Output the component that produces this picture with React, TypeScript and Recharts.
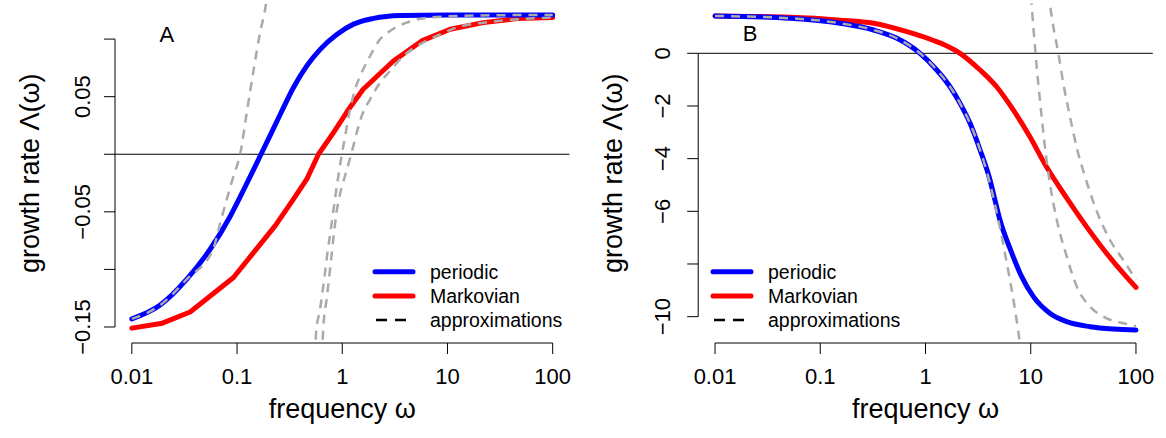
import React from 'react';
import { LineChart, Line, XAxis, YAxis, ReferenceLine, ReferenceDot, Legend } from 'recharts';

const FONT = '"Liberation Sans", Arial, Helvetica, sans-serif';

// ---- shared x axis (frequency, log scale) ----
const freqTicks = [0.01, 0.1, 1, 10, 100];
const freqTickLabels = ['0.01', '0.1', '1', '10', '100'];

// ---- panel A ----
const aYTicks = [-0.15, -0.1, -0.05, 0, 0.05, 0.1];
const aYTickLabels = ['\u22120.15', '', '\u22120.05', '', '0.05', ''];

const aPeriodicW = [0.01, 0.0186, 0.0333, 0.0555, 0.0859, 0.107, 0.169, 0.257, 0.344, 0.46, 0.617, 0.887, 1.28, 1.98, 3.55, 10, 100];
const aPeriodicV = [-0.143, -0.131, -0.1085, -0.0825, -0.054, -0.037, 0, 0.0345, 0.058, 0.0767, 0.0911, 0.104, 0.113, 0.118, 0.1205, 0.121, 0.121];

const aMarkovW = [0.01, 0.0195, 0.0358, 0.0925, 0.23, 0.344, 0.46, 0.594, 0.825, 1.15, 1.58, 3.06, 5.69, 10.6, 21.9, 45.5, 100];
const aMarkovV = [-0.151, -0.1467, -0.137, -0.107, -0.0622, -0.039, -0.0217, 0, 0.0188, 0.039, 0.0564, 0.081, 0.0984, 0.1085, 0.1143, 0.1178, 0.1187];

const aApproxLowW = [0.01, 0.0186, 0.0333, 0.0592, 0.069, 0.08, 0.0917, 0.107, 0.1236, 0.143, 0.165, 0.188, 0.2];
const aApproxLowV = [-0.143, -0.131, -0.1085, -0.0826, -0.06, -0.039, -0.02, 0, 0.036, 0.072, 0.105, 0.13, 0.15];

const aApproxHighPW = [0.55, 0.564, 0.615, 0.679, 0.724, 0.774, 0.845, 0.929, 1.052, 1.186, 1.324, 1.531, 1.837, 2.286, 2.844, 4.1, 6.82, 20, 100];
const aApproxHighPV = [-0.175, -0.155, -0.1345, -0.106, -0.0852, -0.067, -0.0417, -0.0157, 0.013, 0.039, 0.0564, 0.0709, 0.0853, 0.0998, 0.107, 0.1143, 0.1187, 0.1205, 0.121];

const aApproxHighMW = [0.64, 0.661, 0.71, 0.766, 0.836, 0.883, 0.942, 1.074, 1.23, 1.374, 1.531, 1.837, 2.286, 2.844, 3.81, 5.48, 7.91, 12.2, 25.4, 100];
const aApproxHighMV = [-0.175, -0.15, -0.126, -0.0998, -0.0678, -0.0504, -0.0365, -0.0174, 0.0017, 0.0188, 0.0333, 0.0477, 0.0622, 0.0723, 0.0853, 0.0955, 0.1027, 0.11, 0.1149, 0.1187];

// ---- panel B ----
const bYTicks = [0, -2, -4, -6, -8, -10];
const bYTickLabels = ['0', '\u22122', '\u22124', '\u22126', '', '\u221210'];

const bPeriodicW = [0.01, 0.0516, 0.155, 0.321, 0.535, 0.887, 1.28, 1.71, 2.13, 2.65, 3.3, 4.1, 4.57, 5.1, 6.44, 8.2, 10.6, 15.2, 22, 36.6, 61, 100];
const bPeriodicV = [1.417, 1.33, 1.14, 0.885, 0.57, 0, -0.634, -1.27, -1.9, -2.66, -3.67, -4.81, -5.57, -6.33, -7.47, -8.48, -9.24, -9.87, -10.19, -10.38, -10.47, -10.51];

const bMarkovW = [0.01, 0.0516, 0.155, 0.321, 0.665, 1.19, 1.6, 2.13, 3.3, 4.74, 6.82, 9.82, 14.1, 22, 34, 52.7, 75.9, 100];
const bMarkovV = [1.417, 1.37, 1.26, 1.14, 0.82, 0.486, 0.277, 0, -0.634, -1.27, -2.15, -3.17, -4.31, -5.5, -6.59, -7.6, -8.36, -8.89];

const bApproxLowW = [0.01, 0.0516, 0.155, 0.321, 0.535, 0.887, 1.28, 1.71, 2.13, 2.65, 3.3, 4.1, 4.92, 5.69, 6.35, 6.93, 7.62, 8.2];
const bApproxLowV = [1.417, 1.33, 1.14, 0.885, 0.57, 0, -0.634, -1.27, -1.9, -2.66, -3.67, -4.94, -6.33, -7.6, -8.61, -9.49, -10.57, -11.5];

const bApproxHighPW = [9.8, 10.2, 11.1, 12.7, 14.0, 15.2, 17.7, 22, 27.4, 36.6, 49, 81.7, 100];
const bApproxHighPV = [2.78, 1.83, 0, -2.41, -3.93, -4.94, -6.33, -7.72, -8.86, -9.62, -10.0, -10.28, -10.36];

const bApproxHighMW = [14.6, 15.25, 16.4, 18.3, 20.4, 23.6, 27.7, 32.1, 40.8, 56.6, 75.7, 100];
const bApproxHighMV = [2.33, 1.83, 1.01, 0, -1.14, -2.41, -3.67, -4.56, -5.82, -7.09, -7.85, -8.6];

const seriesNames = ['periodic', 'Markovian', 'approximations'];
const seriesColors = ['#0000ff', '#ff0000', '#000000'];

const zip = (w: number[], v: number[]) => w.map((x, i) => ({ w: x, v: v[i] }));

const X_DOMAIN: [number, number] = [0.006918, 144.5];
const A_DOMAIN: [number, number] = [-0.1639, 0.1309];
const B_DOMAIN: [number, number] = [-11.0, 1.891];

const CW = 583;
const CH = 438;
const GRAY = '#aaaaaa';
const TICK_FS = 22;
const TITLE_FS = 27;

type PanelProps = {
  left: number;
  yAxisWidth: number;
  rightMargin: number;
  yDomain: [number, number];
  yTicks: number[];
  yTickLabels: string[];
  yLabelOffset: number;
  letter: string;
  letterX: number;
  letterY: number;
  periodic: { w: number; v: number }[];
  markov: { w: number; v: number }[];
  markovCurve: 'linear' | 'monotone';
  approx: { w: number; v: number }[][];
  legendLeft: number;
};

function Panel(p: PanelProps) {
  const yTick = (props: any) => {
    const { x, y, payload } = props;
    const i = p.yTicks.indexOf(payload.value);
    const lab = i >= 0 ? p.yTickLabels[i] : '';
    if (!lab) return <g />;
    const bx = x - p.yLabelOffset;
    return (
      <text x={bx} y={y} transform={`rotate(-90 ${bx} ${y})`} textAnchor="middle" fontSize={TICK_FS} fontFamily={FONT} fill="#000">
        {lab}
      </text>
    );
  };
  const xTick = (props: any) => {
    const { x, y, payload } = props;
    const i = freqTicks.indexOf(payload.value);
    return (
      <text x={x} y={y + 27.8} textAnchor="middle" fontSize={TICK_FS} fontFamily={FONT} fill="#000">
        {i >= 0 ? freqTickLabels[i] : ''}
      </text>
    );
  };
  const xTitle = (props: any) => {
    const vb = props.viewBox || { x: p.yAxisWidth, y: 343, width: CW - p.yAxisWidth - p.rightMargin, height: 95 };
    return (
      <text x={vb.x + vb.width / 2} y={vb.y + 75} textAnchor="middle" fontSize={TITLE_FS} fontFamily={FONT} fill="#000">
        frequency ω
      </text>
    );
  };
  const yTitle = (props: any) => {
    const vb = props.viewBox || { x: 0, y: 3.5, width: p.yAxisWidth, height: 339.5 };
    const tx = vb.x + vb.width - 76;
    const ty = vb.y + vb.height / 2;
    return (
      <text x={tx} y={ty} transform={`rotate(-90 ${tx} ${ty})`} textAnchor="middle" fontSize={TITLE_FS} fontFamily={FONT} fill="#000">
        growth rate Λ(ω)
      </text>
    );
  };
  const letterLabel = (props: any) => {
    const vb = props.viewBox || { x: 0, y: 0, width: 0, height: 0 };
    return (
      <text x={vb.x + (vb.width || 0) / 2} y={vb.y + (vb.height || 0) / 2} dy="0.36em" textAnchor="middle" fontSize={22} fontFamily={FONT} fill="#000">
        {p.letter}
      </text>
    );
  };
  const legendContent = () => (
    <svg width={215} height={80} style={{ display: 'block', overflow: 'visible' }}>
      {seriesNames.map((name, i) => {
        const ry = 16.7 + i * 24.2;
        return (
          <g key={name}>
            {i < 2 ? (
              <line x1={5} x2={43} y1={ry} y2={ry} stroke={seriesColors[i]} strokeWidth={5} strokeLinecap="round" />
            ) : (
              <line x1={6} x2={43} y1={ry} y2={ry} stroke="#000" strokeWidth={2.5} strokeDasharray="11 8" />
            )}
            <text x={60} y={ry + 7.3} fontSize={19.5} fontFamily={FONT} fill="#000">
              {name}
            </text>
          </g>
        );
      })}
    </svg>
  );
  const yMinTick = Math.min(...p.yTicks);
  const yMaxTick = Math.max(...p.yTicks);
  return (
    <div style={{ position: 'absolute', left: p.left, top: 0, width: CW, height: CH }}>
      <LineChart width={CW} height={CH} margin={{ top: 3.5, right: p.rightMargin, bottom: 0, left: 0 }}>
        <XAxis
          dataKey="w"
          type="number"
          scale="log"
          domain={X_DOMAIN}
          allowDataOverflow
          ticks={freqTicks}
          interval={0}
          height={95}
          axisLine={false}
          tickSize={11}
          tickLine={{ stroke: '#000', strokeWidth: 1 }}
          tick={xTick}
          label={{ content: xTitle }}
        />
        <YAxis
          type="number"
          domain={p.yDomain}
          allowDataOverflow
          ticks={p.yTicks}
          interval={0}
          width={p.yAxisWidth}
          axisLine={false}
          tickSize={11}
          tickLine={{ stroke: '#000', strokeWidth: 1 }}
          tick={yTick}
          label={{ content: yTitle }}
        />
        <ReferenceLine
          segment={[{ x: freqTicks[0], y: p.yDomain[0] }, { x: freqTicks[freqTicks.length - 1], y: p.yDomain[0] }]}
          stroke="#000"
          strokeWidth={1}
          ifOverflow="visible"
        />
        <ReferenceLine
          segment={[{ x: X_DOMAIN[0], y: yMinTick }, { x: X_DOMAIN[0], y: yMaxTick }]}
          stroke="#000"
          strokeWidth={1}
          ifOverflow="visible"
        />
        <ReferenceLine y={0} stroke="#000" strokeWidth={1} />
        <ReferenceDot x={p.letterX} y={p.letterY} r={0} fill="none" stroke="none" label={{ content: letterLabel }} />
        <Line
          data={p.markov}
          dataKey="v"
          type={p.markovCurve}
          stroke="#ff0000"
          strokeWidth={5}
          strokeLinecap="round"
          strokeLinejoin="round"
          dot={false}
          activeDot={false}
          isAnimationActive={false}
        />
        <Line
          data={p.periodic}
          dataKey="v"
          type="monotone"
          stroke="#0000ff"
          strokeWidth={5}
          strokeLinecap="round"
          strokeLinejoin="round"
          dot={false}
          activeDot={false}
          isAnimationActive={false}
        />
        {p.approx.map((d, i) => (
          <Line
            key={'ap' + i}
            data={d}
            dataKey="v"
            type="monotone"
            stroke={GRAY}
            strokeWidth={2.5}
            strokeDasharray="9 7"
            dot={false}
            activeDot={false}
            isAnimationActive={false}
          />
        ))}
        <Legend
          layout="vertical"
          verticalAlign="middle"
          align="center"
          wrapperStyle={{ position: 'absolute', left: p.legendLeft, top: 255, width: 215, height: 80 }}
          content={legendContent}
        />
      </LineChart>
    </div>
  );
}

export default function App() {
  return (
    <div style={{ position: 'absolute', left: 0, top: 0, width: 1166, height: 438, background: '#fff' }}>
      <Panel
        left={0}
        yAxisWidth={115}
        rightMargin={13.5}
        yDomain={A_DOMAIN}
        yTicks={aYTicks}
        yTickLabels={aYTickLabels}
        yLabelOffset={12}
        letter="A"
        letterX={0.0215}
        letterY={0.1043}
        periodic={zip(aPeriodicW, aPeriodicV)}
        markov={zip(aMarkovW, aMarkovV)}
        markovCurve="linear"
        approx={[zip(aApproxLowW, aApproxLowV), zip(aApproxHighPW, aApproxHighPV), zip(aApproxHighMW, aApproxHighMV)]}
        legendLeft={370}
      />
      <Panel
        left={583}
        yAxisWidth={115.2}
        rightMargin={13.2}
        yDomain={B_DOMAIN}
        yTicks={bYTicks}
        yTickLabels={bYTickLabels}
        yLabelOffset={15}
        letter="B"
        letterX={0.0215}
        letterY={0.76}
        periodic={zip(bPeriodicW, bPeriodicV)}
        markov={zip(bMarkovW, bMarkovV)}
        markovCurve="monotone"
        approx={[zip(bApproxLowW, bApproxLowV), zip(bApproxHighPW, bApproxHighPV), zip(bApproxHighMW, bApproxHighMV)]}
        legendLeft={125}
      />
    </div>
  );
}
